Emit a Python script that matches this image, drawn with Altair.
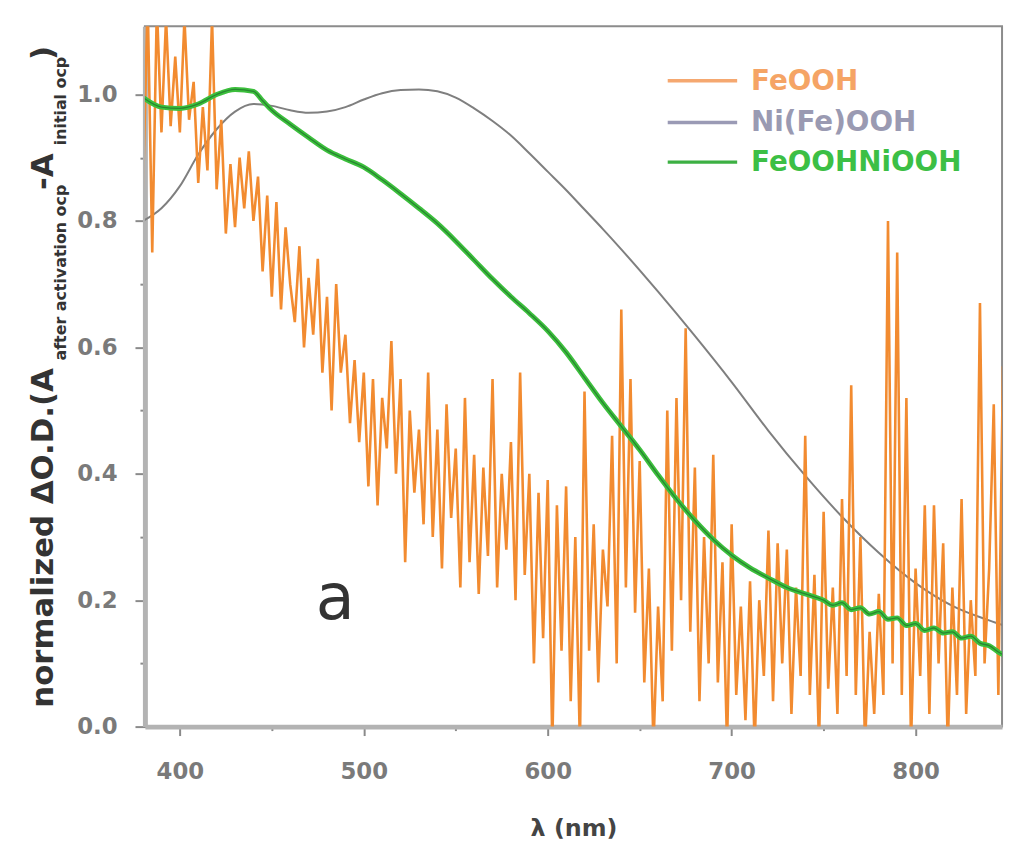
import altair as alt
import pandas as pd

# ---------------- data ----------------
series_names = ["FeOOH", "Ni(Fe)OOH", "FeOOHNiOOH"]

nife_x = [380, 390, 400, 410, 420, 430, 440, 450, 460, 470, 480, 490, 500, 510, 520, 530,
          540, 550, 560, 570, 580, 590, 600, 610, 620, 630, 640, 660, 680, 700, 720, 740, 760,
          780, 800, 820, 840, 850]
nife_y = [0.80, 0.82, 0.855, 0.905, 0.945, 0.973, 0.985, 0.982, 0.975, 0.971, 0.973, 0.980,
          0.992, 1.002, 1.007, 1.008, 1.005, 0.995, 0.978, 0.958, 0.935, 0.907, 0.878, 0.849,
          0.818, 0.787, 0.755, 0.688, 0.618, 0.545, 0.468, 0.397, 0.332, 0.275, 0.227, 0.191,
          0.168, 0.158]

mix_x = [380, 390, 400, 410, 420, 430, 440, 445, 450, 460, 470, 480, 490, 500, 510, 520,
         530, 540, 550, 560, 570, 580, 590, 600, 610, 620, 630, 640, 650, 660, 670, 680,
         690, 700, 710, 720, 730, 740, 750, 755, 760, 765, 770, 775, 780, 785, 790, 795,
         800, 805, 810, 815, 820, 825, 830, 835, 840, 845, 850]
mix_y = [0.995, 0.980, 0.978, 0.985, 1.000, 1.008, 1.005, 0.990, 0.975, 0.953, 0.932, 0.912,
         0.898, 0.885, 0.865, 0.843, 0.820, 0.796, 0.768, 0.738, 0.708, 0.680, 0.654, 0.626,
         0.592, 0.552, 0.512, 0.475, 0.438, 0.398, 0.360, 0.326, 0.296, 0.271, 0.251, 0.235,
         0.220, 0.210, 0.200, 0.192, 0.196, 0.185, 0.188, 0.178, 0.182, 0.170, 0.172, 0.160,
         0.163, 0.152, 0.156, 0.148, 0.150, 0.140, 0.143, 0.132, 0.128, 0.118, 0.110]

feooh_x = [380, 382.5, 385, 387.5, 390, 392.5, 395, 397.5, 400, 402.5, 405, 407.5, 410, 412.5,
           415, 417.5, 420, 422.5, 425, 427.5, 430, 432.5, 435, 437.5, 440, 442.5, 445, 447.5,
           450, 452.5, 455, 457.5, 460, 462.5, 465, 467.5, 470, 472.5, 475, 477.5, 480, 482.5,
           485, 487.5, 490, 492.5, 495, 497.5, 500, 502.5, 505, 507.5, 510, 512.5, 515, 517.5,
           520, 522.5, 525, 527.5, 530, 532.5, 535, 537.5, 540, 542.5, 545, 547.5, 550, 552.5,
           555, 557.5, 560, 562.5, 565, 567.5, 570, 572.5, 575, 577.5, 580, 582.5, 585, 587.5,
           590, 592.5, 595, 597.5, 600, 602.5, 605, 607.5, 610, 612.5, 615, 617.5, 620, 622.5,
           625, 627.5, 630, 632.5, 635, 637.5, 640, 642.5, 645, 647.5, 650, 652.5, 655, 657.5,
           660, 662.5, 665, 667.5, 670, 672.5, 675, 677.5, 680, 682.5, 685, 687.5, 690, 692.5,
           695, 697.5, 700, 702.5, 705, 707.5, 710, 712.5, 715, 717.5, 720, 722.5, 725, 727.5,
           730, 732.5, 735, 737.5, 740, 742.5, 745, 747.5, 750, 752.5, 755, 757.5, 760, 762.5,
           765, 767.5, 770, 772.5, 775, 777.5, 780, 782.5, 785, 787.5, 790, 792.5, 795, 797.5,
           800, 802.5, 805, 807.5, 810, 812.5, 815, 817.5, 820, 822.5, 825, 827.5, 830, 832.5,
           835, 837.5, 840, 842.5, 845, 847.5, 850]
feooh_y = [0.85, 1.15, 0.75, 1.14, 0.94, 1.12, 0.95, 1.06, 0.94, 1.12, 0.96, 1.02, 0.86, 0.98,
           0.88, 1.12, 0.85, 0.96, 0.78, 0.89, 0.79, 0.90, 0.82, 0.91, 0.80, 0.87, 0.72, 0.84,
           0.68, 0.83, 0.66, 0.79, 0.70, 0.64, 0.76, 0.60, 0.71, 0.62, 0.74, 0.56, 0.68, 0.50,
           0.70, 0.56, 0.62, 0.48, 0.58, 0.45, 0.56, 0.38, 0.55, 0.35, 0.52, 0.44, 0.61, 0.40,
           0.55, 0.26, 0.50, 0.37, 0.47, 0.32, 0.56, 0.30, 0.47, 0.25, 0.51, 0.33, 0.44, 0.22,
           0.52, 0.26, 0.43, 0.21, 0.41, 0.27, 0.55, 0.22, 0.40, 0.28, 0.45, 0.20, 0.56, 0.24,
           0.40, 0.10, 0.37, 0.14, 0.39, -0.03, 0.35, 0.12, 0.38, 0.04, 0.30, -0.03, 0.53, 0.12,
           0.32, 0.07, 0.28, 0.19, 0.46, 0.10, 0.66, 0.22, 0.55, 0.18, 0.42, 0.07, 0.25, -0.03,
           0.19, 0.04, 0.50, 0.12, 0.52, 0.20, 0.63, 0.15, 0.41, 0.04, 0.30, 0.10, 0.43, 0.07,
           0.26, -0.03, 0.32, 0.05, 0.19, 0.01, 0.23, -0.03, 0.20, 0.08, 0.31, 0.04, 0.29, 0.10,
           0.28, 0.02, 0.22, 0.08, 0.46, 0.05, 0.24, -0.03, 0.34, 0.06, 0.22, 0.02, 0.36, 0.08,
           0.54, 0.05, 0.30, -0.03, 0.15, 0.02, 0.21, 0.05, 0.80, 0.10, 0.75, 0.05, 0.52, -0.03,
           0.25, 0.08, 0.35, 0.02, 0.35, 0.10, 0.29, -0.03, 0.22, 0.05, 0.36, 0.02, 0.20, 0.08,
           0.67, 0.10, 0.25, 0.51, 0.05, 0.57, 0.30]

x_ticks = [400, 450, 500, 550, 600, 650, 700, 750, 800]
y_ticks = [0.0, 0.1, 0.2, 0.3, 0.4, 0.5, 0.6, 0.7, 0.8, 0.9, 1.0]

# ---------------- styling ----------------
ORANGE = "#F28B30"
GRAY = "#7f7f7f"
GREEN = "#3cbf3c"
GREEN_CORE = "#23782f"
LEG_COLORS = ["#F5A465", "#9a9ab2", "#3cbf45"]
LEG_LINE = ["#F5A870", "#9a9ab5", "#3cb043"]
FONT = "DejaVu Sans"

PLOT_L, PLOT_T = 146, 23
W, H = 864, 706

x_scale = alt.Scale(domain=[381, 847], nice=False, zero=False)
y_scale = alt.Scale(domain=[0, 1.108], nice=False, zero=False)

x_axis = alt.Axis(
    values=x_ticks,
    labelExpr="datum.value % 100 == 0 ? datum.value : ''",
    tickSize={"condition": {"test": "datum.value % 100 == 0", "value": 9}, "value": 4},
    title="λ (nm)",
)
y_axis = alt.Axis(
    values=y_ticks,
    labelExpr="round(datum.value*10) % 2 == 0 ? format(datum.value, '.1f') : ''",
    tickSize={"condition": {"test": "round(datum.value*10) % 2 == 0", "value": 10}, "value": 5},
    title=None,
)

def xy():
    return dict(
        x=alt.X("wl:Q", scale=x_scale, axis=x_axis),
        y=alt.Y("v:Q", scale=y_scale, axis=y_axis),
    )

nife_df = pd.DataFrame({"wl": nife_x, "v": nife_y})
mix_df = pd.DataFrame({"wl": mix_x, "v": mix_y})
feooh_df = pd.DataFrame({"wl": feooh_x, "v": feooh_y})

gray_line = alt.Chart(nife_df).mark_line(color=GRAY, strokeWidth=2, interpolate="monotone", clip=True).encode(**xy())
orange_line = alt.Chart(feooh_df).mark_line(color=ORANGE, strokeWidth=2.6, clip=True).encode(**xy())
green_glow = alt.Chart(mix_df).mark_line(color=GREEN, strokeWidth=5, interpolate="monotone", clip=True).encode(**xy())
green_core = alt.Chart(mix_df).mark_line(color=GREEN_CORE, strokeWidth=1.3, interpolate="monotone", clip=True, opacity=0.8).encode(**xy())

# panel letter "a"
panel_df = pd.DataFrame({"wl": [484.5], "v": [0.171], "t": ["a"]})
panel = alt.Chart(panel_df).mark_text(font=FONT, fontSize=64, color="#333333", align="center",
                                      baseline="alphabetic").encode(text="t:N", **xy())

# legend (manual, positioned in pixels relative to the plot area)
legend_rows_y = [78, 120, 160]
legend_layers = []
for name, lc, tc, ly in zip(series_names, LEG_LINE, LEG_COLORS, legend_rows_y):
    legend_layers.append(
        alt.Chart(pd.DataFrame({"d": [0]})).mark_rule(color=lc, strokeWidth=3.5).encode(
            x=alt.value(673 - PLOT_L), x2=alt.value(743 - PLOT_L), y=alt.value(ly - PLOT_T)))
    legend_layers.append(
        alt.Chart(pd.DataFrame({"d": [0]})).mark_text(
            text=name, font=FONT, fontWeight="bold", fontSize=28, color=tc,
            align="left", baseline="middle").encode(
            x=alt.value(757 - PLOT_L), y=alt.value(ly - PLOT_T + 1)))

# y-axis title with subscripts (rotated text pieces)
ytitle_parts = [
    ("normalized ΔO.D.(A", 31, 53, 710),
    ("after activation ocp", 16, 66, 360),
    ("-A", 31, 53, 188),
    ("initial ocp", 16, 66, 143),
    (")", 31, 53, 57),
]
ytitle_layers = []
for txt, fs, bx, by in ytitle_parts:
    ytitle_layers.append(
        alt.Chart(pd.DataFrame({"d": [0]})).mark_text(
            text=txt, font=FONT, fontWeight="bold", fontSize=fs, color="#333333",
            angle=270, align="left", baseline="alphabetic").encode(
            x=alt.value(bx - PLOT_L), y=alt.value(by - PLOT_T)))

chart = alt.layer(
    gray_line, orange_line, green_glow, green_core, panel, *legend_layers, *ytitle_layers
).properties(
    width=W, height=H,
    autosize=alt.AutoSizeParams(type="none"),
    padding={"left": PLOT_L - 8, "top": PLOT_T - 8, "right": 5, "bottom": 120},
    background="white",
).configure_view(
    stroke="#8c8c8c", strokeWidth=2,
).configure_axis(
    grid=False,
    domainColor="#b3b3b3", domainWidth=5,
    tickColor="#8a8a8a", tickWidth=2,
    labelFont=FONT, labelFontSize=23, labelFontWeight="bold", labelColor="#7a7a7a",
    titleFont=FONT, titleFontSize=24, titleFontWeight="bold", titleColor="#444444",
).configure_axisX(
    labelPadding=25, titlePadding=34,
).configure_axisY(
    labelPadding=18,
)

chart.save("out.html", embed_options={"renderer": "svg", "actions": False})
